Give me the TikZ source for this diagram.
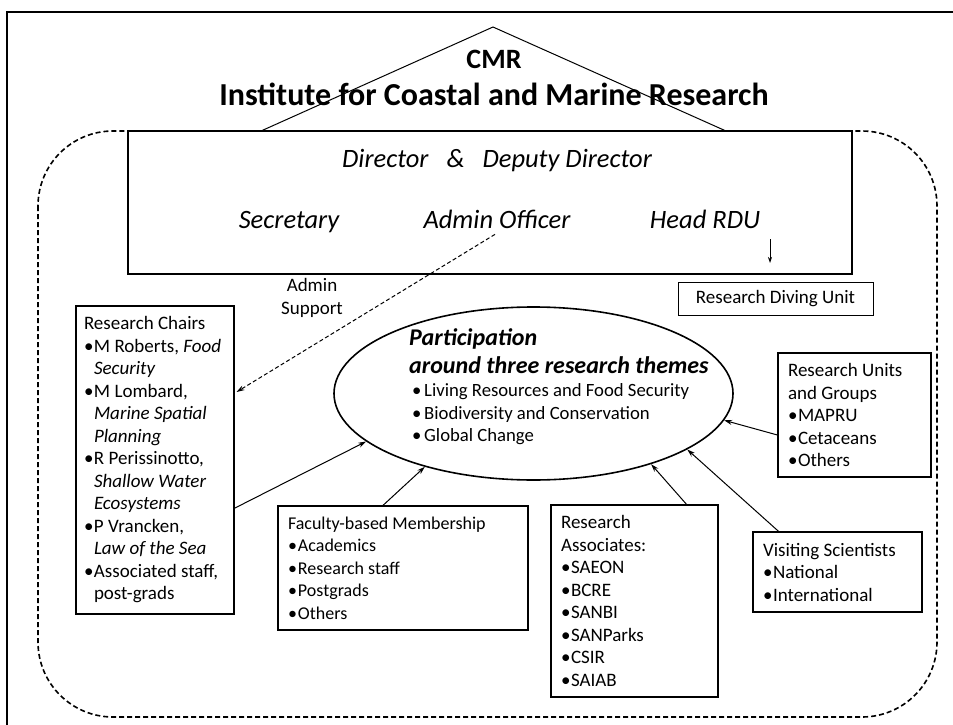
\documentclass[tikz,border=0pt]{standalone}
\usepackage{fontspec}
\setmainfont{Carlito}
\usetikzlibrary{arrows.meta,calc,shapes.geometric}
\newcommand\bodyfont{\fontsize{19}{22.5}\selectfont}
\newcommand\facfont{\fontsize{18}{22.5}\selectfont}
\newcommand\bl{\makebox[10pt][l]{\textbullet}}
\newcommand\ii{\hspace*{10pt}}
\newcommand\ebl{\makebox[12pt][l]{\textbullet}}
\begin{document}
\begin{tikzpicture}[x=1pt,y=-1pt,
  box/.style={draw, line width=1.1pt, inner xsep=9pt, inner ysep=0pt, align=flush left, font=\bodyfont},
  arr/.style={-{Stealth[length=8pt,width=5pt]}, line width=1pt},
  ttl/.style={font=\fontsize{32}{36}\selectfont\bfseries, inner sep=0pt, anchor=base},
  dtext/.style={font=\fontsize{26.5}{30}\selectfont\itshape, inner sep=0pt, anchor=base},
]
\useasboundingbox (0,0) rectangle (953,725);
% page frame
\draw[line width=2pt] (7,725) -- (7,12) -- (953,12);
% dashed institute boundary
\draw[dash pattern=on 5pt off 3pt, line width=1.6pt, rounded corners=75pt] (38,131) rectangle (937,717);
% roof
\draw[line width=1pt] (261,131) -- (493,27) -- (726,131);
\node[ttl, font=\fontsize{28}{32}\selectfont\bfseries] (cmr) at (494,68) {CMR};
\node[ttl] (inst) at (494,106) {Institute for Coastal and Marine Research};
% director box
\node[draw, line width=1.6pt, fill=white, minimum width=724pt, minimum height=143pt, inner sep=0pt] (dir) at (490,202.5) {};
\node[dtext] (dd) at (497,167) {Director\ \ \ \&\ \ \ Deputy Director};
\node[dtext] (sec) at (289,228) {Secretary};
\node[dtext] (admin) at (497,228) {Admin Officer};
\node[dtext] (head) at (705,228) {Head RDU};
\coordinate (rduA) at (770,239);
\coordinate (rduB) at (770,263);
\draw[-{Stealth[length=6pt,width=4pt]}, line width=0.8pt] (rduA) -- (rduB);
% diving unit
\node[draw, line width=1pt, minimum width=195pt, minimum height=33pt, inner sep=0pt, font=\bodyfont] (rdu) at (775.5,298.5) {Research Diving Unit};
% admin support label
\node[font=\bodyfont, align=center, inner sep=0pt] (sup) at (312,298) {Admin\\Support};
% themes ellipse
\node[ellipse, draw, line width=1.6pt, minimum width=399pt, minimum height=173pt, inner sep=0pt] (theme) at (533.5,393.5) {};
\node[font=\fontsize{24}{28}\selectfont\bfseries\itshape, align=flush left, anchor=west, inner sep=0pt] (thead) at (409,351) {Participation\\around three research themes};
\node[font=\fontsize{18.7}{22.5}\selectfont, align=flush left, anchor=west, inner sep=0pt] (tlist) at (412,414.5) {\ebl Living Resources and Food Security\\ \ebl Biodiversity and Conservation\\ \ebl Global Change};
% boxes
\node[box, inner xsep=8pt, minimum width=158pt, minimum height=308pt, text width=142pt] (chairs) at (155,460) {Research Chairs\\ \bl M Roberts, \textit{Food}\\ \ii\textit{Security}\\ \bl M Lombard,\\ \ii\textit{Marine Spatial}\\ \ii\textit{Planning}\\ \bl R Perissinotto,\\ \ii\textit{Shallow Water}\\ \ii\textit{Ecosystems}\\ \bl P Vrancken,\\ \ii\textit{Law of the Sea}\\ \bl Associated staff,\\ \ii post-grads};
\node[box, font=\facfont, inner xsep=10pt, minimum width=250pt, minimum height=124pt, text width=230pt] (fac) at (403,568) {Faculty-based Membership\\ \bl Academics\\ \bl Research staff\\ \bl Postgrads\\ \bl Others};
\node[box, inner xsep=10pt, minimum width=167pt, minimum height=192pt, text width=147pt] (assoc) at (634.5,601) {Research\\ Associates:\\ \bl SAEON\\ \bl BCRE\\ \bl SANBI\\ \bl SANParks\\ \bl CSIR\\ \bl SAIAB};
\node[box, inner xsep=10pt, minimum width=169pt, minimum height=80pt, text width=149pt] (vis) at (837.5,572) {Visiting Scientists\\ \bl National\\ \bl International};
\node[box, inner xsep=10pt, minimum width=153pt, minimum height=124pt, text width=133pt] (units) at (854.5,415) {Research Units\\ and Groups\\ \bl MAPRU\\ \bl Cetaceans\\ \bl Others};
% connectors
\draw[arr] ($(chairs.north east)!0.656!(chairs.south east)$) -- (theme.196.7);
\draw[arr] ($(fac.north west)!0.42!(fac.north east)$) -- (theme.214.8);
\draw[arr] ($(assoc.north west)!0.81!(assoc.north east)$) -- (theme.329);
\draw[arr] ($(vis.north west)!0.154!(vis.north east)$) -- (theme.340);
\draw[arr] ($(units.north west)!0.66!(units.south west)$) -- (theme.352);
\draw[arr, dash pattern=on 4pt off 2.5pt] ($(admin.south)+(-2,6)$) -- ($(chairs.north east)!0.28!(chairs.south east)+(2,0)$);
\end{tikzpicture}
\end{document}
